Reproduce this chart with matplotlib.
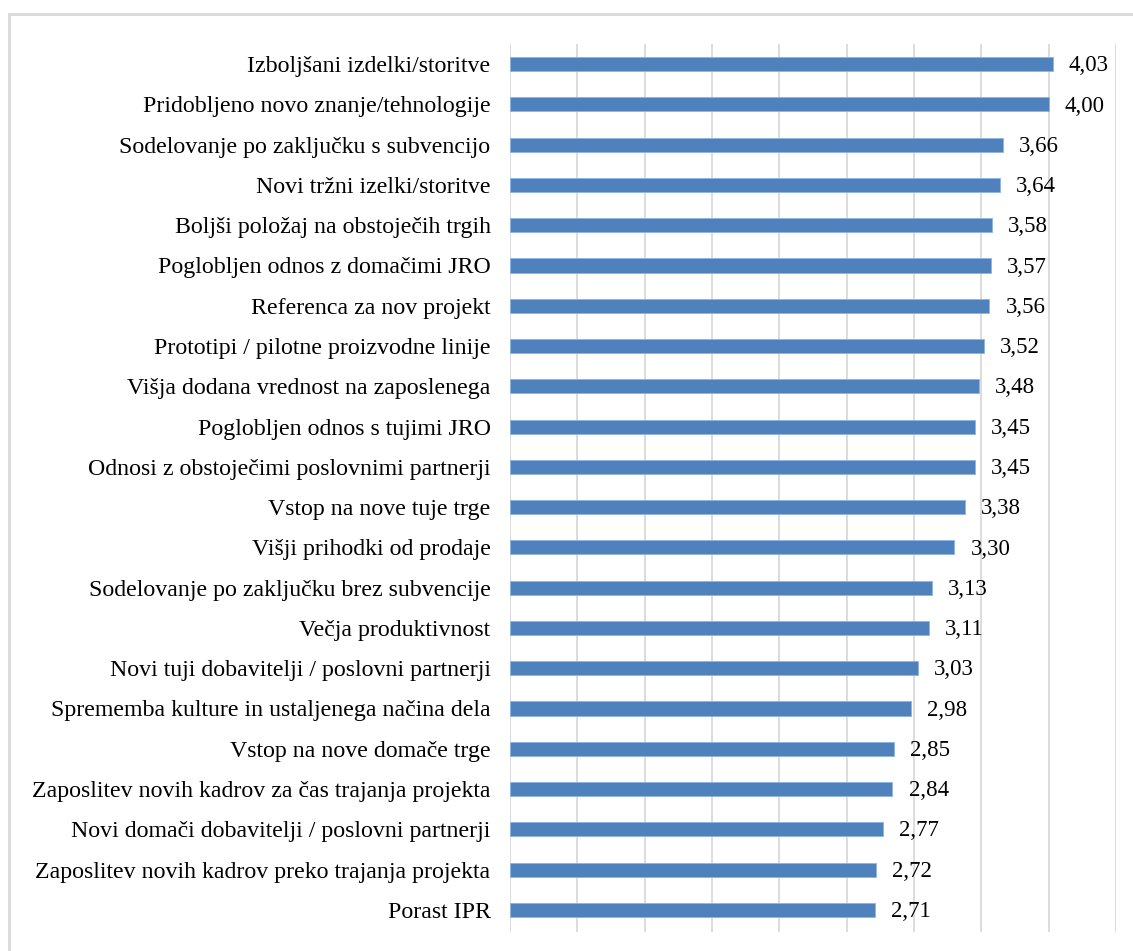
import matplotlib.pyplot as plt
from matplotlib.patches import Rectangle

# Ocene učinkov, od najvišje do najnižje
labels = [
    'Izboljšani izdelki/storitve',
    'Pridobljeno novo znanje/tehnologije',
    'Sodelovanje po zaključku s subvencijo',
    'Novi tržni izelki/storitve',
    'Boljši položaj na obstoječih trgih',
    'Poglobljen odnos z domačimi JRO',
    'Referenca za nov projekt',
    'Prototipi / pilotne proizvodne linije',
    'Višja dodana vrednost na zaposlenega',
    'Poglobljen odnos s tujimi JRO',
    'Odnosi z obstoječimi poslovnimi partnerji',
    'Vstop na nove tuje trge',
    'Višji prihodki od prodaje',
    'Sodelovanje po zaključku brez subvencije',
    'Večja produktivnost',
    'Novi tuji dobavitelji / poslovni partnerji',
    'Sprememba kulture in ustaljenega načina dela',
    'Vstop na nove domače trge',
    'Zaposlitev novih kadrov za čas trajanja projekta',
    'Novi domači dobavitelji / poslovni partnerji',
    'Zaposlitev novih kadrov preko trajanja projekta',
    'Porast IPR',
]
values = [4.03, 4.00, 3.66, 3.64, 3.58, 3.57, 3.56, 3.52, 3.48, 3.45, 3.45,
          3.38, 3.30, 3.13, 3.11, 3.03, 2.98, 2.85, 2.84, 2.77, 2.72, 2.71]

plt.rcParams['font.family'] = ['Liberation Serif', 'DejaVu Serif']

fig = plt.figure(figsize=(11.33, 9.51), dpi=100)
ax = fig.add_axes([510 / 1133, 1 - 932 / 951, (1116 - 510) / 1133, (932 - 44) / 951])

y = list(range(len(labels)))
ax.barh(y, values, height=0.35, color='#4f81bd', edgecolor='#8eb4e3', linewidth=0.6, zorder=3)

for yi, v in zip(y, values):
    ax.text(v + 0.12, yi + 0.04, f'{v:.2f}'.replace('.', ','), va='center', ha='left',
            fontsize=16.5, color='black')

ax.set_xlim(0, 4.5)
ax.set_ylim(len(labels) - 0.45, -0.5)
ax.set_xticks([i * 0.5 for i in range(10)])
ax.set_xticklabels([])
ax.tick_params(axis='x', length=0)
ax.tick_params(axis='y', length=0, pad=14, labelsize=17.2)
ax.set_yticks(y)
ax.set_yticklabels(labels)
ax.grid(axis='x', color='#d9d9d9', linewidth=1.3, zorder=0)
for s in ax.spines.values():
    s.set_visible(False)

# okvir grafikona
fig.patches.append(Rectangle((9 / 1133, -0.01), 1.02, 1 - 14 / 951 + 0.01,
                             transform=fig.transFigure, fill=False,
                             edgecolor='#d9d9d9', linewidth=2))

fig.savefig('out.png', dpi=100)
